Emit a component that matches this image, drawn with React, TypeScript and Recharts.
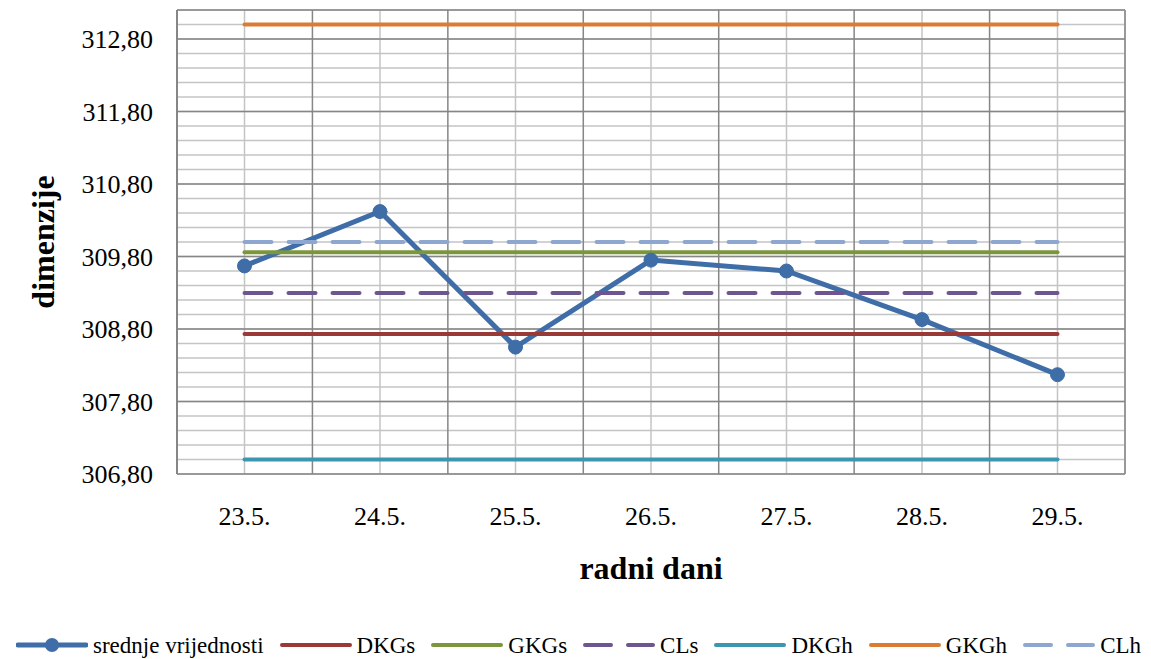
import React from "react";
import {
  LineChart,
  Line,
  XAxis,
  YAxis,
  CartesianGrid,
  Legend,
  Label,
} from "recharts";

const days = ["23.5.", "24.5.", "25.5.", "26.5.", "27.5.", "28.5.", "29.5."];
const means = [309.67, 310.42, 308.55, 309.75, 309.6, 308.93, 308.17];

const DKGs = 308.73;
const GKGs = 309.86;
const CLs = 309.295;
const DKGh = 307.0;
const GKGh = 313.0;
const CLh = 310.0;

const yTicks = [306.8, 307.8, 308.8, 309.8, 310.8, 311.8, 312.8];
const yDomain = [306.8, 313.2];
const minorStep = 0.2;

const data = days.map((d, i) => ({
  day: d,
  mean: means[i],
  DKGs,
  GKGs,
  CLs,
  DKGh,
  GKGh,
  CLh,
}));

const FONT = "'Times New Roman', 'Liberation Serif', serif";

const series = [
  { key: "mean", name: "srednje vrijednosti", color: "#3E6DA8", width: 5, dash: undefined, dot: true },
  { key: "DKGs", name: "DKGs", color: "#9A3A37", width: 4, dash: undefined },
  { key: "GKGs", name: "GKGs", color: "#7C973B", width: 4, dash: undefined },
  { key: "CLs", name: "CLs", color: "#6F5590", width: 4, dash: "27 17" },
  { key: "DKGh", name: "DKGh", color: "#3C96AF", width: 4, dash: undefined },
  { key: "GKGh", name: "GKGh", color: "#DA7C35", width: 4, dash: undefined },
  { key: "CLh", name: "CLh", color: "#8EA7D1", width: 4, dash: "27 17" },
];

// grid lines placed from the plot area (offset) and the y domain
const yToPx = (v: number, off: any) =>
  off.top + (off.height * (yDomain[1] - v)) / (yDomain[1] - yDomain[0]);

const minorRows = (props: any) => {
  const out: number[] = [];
  const n = Math.round((yDomain[1] - yDomain[0]) / minorStep);
  for (let i = 0; i <= n; i++) out.push(yToPx(yDomain[0] + i * minorStep, props.offset));
  return out;
};
const majorRows = (props: any) =>
  [...yTicks, yDomain[1]].map((v) => yToPx(v, props.offset));
const majorCols = (props: any) => {
  const off = props.offset;
  const out: number[] = [];
  for (let i = 0; i <= days.length; i++) out.push(off.left + (off.width * i) / days.length);
  return out;
};

function LegendContent() {
  return (
    <div
      style={{
        display: "flex",
        justifyContent: "center",
        alignItems: "center",
        boxSizing: "border-box",
        height: 40,
        paddingTop: 12,
        paddingLeft: 6,
        fontFamily: FONT,
        fontSize: 23,
        color: "#000",
        whiteSpace: "nowrap",
      }}
    >
      {series.map((s, i) => (
        <div
          key={s.key}
          style={{
            display: "flex",
            alignItems: "center",
            flexShrink: 0,
            marginLeft: i === 0 ? 0 : 16,
          }}
        >
          <svg width={72} height={16} style={{ marginRight: 5, flexShrink: 0 }}>
            <line
              x1={2}
              x2={70}
              y1={8}
              y2={8}
              stroke={s.color}
              strokeWidth={s.width}
              strokeLinecap="round"
              strokeDasharray={s.dash ? "26 17" : undefined}
            />
            {s.dot && <circle cx={36} cy={8} r={7} fill={s.color} />}
          </svg>
          <span style={{ lineHeight: "23px" }}>{s.name}</span>
        </div>
      ))}
    </div>
  );
}

export default function App() {
  return (
    <div style={{ position: "absolute", left: 0, top: 0, background: "#fff" }}>
      <LineChart
        width={1151}
        height={659}
        data={data}
        margin={{ top: 10, right: 26, bottom: 0, left: 0 }}
      >
        <CartesianGrid
          stroke="#c4c4c4"
          strokeWidth={1.5}
          horizontalCoordinatesGenerator={minorRows}
        />
        <CartesianGrid
          stroke="#868686"
          strokeWidth={1.5}
          horizontalCoordinatesGenerator={majorRows}
          verticalCoordinatesGenerator={majorCols}
        />
        <XAxis
          dataKey="day"
          padding={{ left: 67.5, right: 67.5 }}
          height={145}
          tickLine={false}
          axisLine={false}
          tickSize={0}
          tickMargin={33}
          tick={{ fill: "#000", fontFamily: FONT, fontSize: 26 }}
        >
          <Label
            value="radni dani"
            position="insideBottom"
            offset={40}
            style={{ fill: "#000", fontFamily: FONT, fontSize: 32, fontWeight: "bold" }}
          />
        </XAxis>
        <YAxis
          type="number"
          domain={yDomain}
          ticks={yTicks}
          width={177}
          interval={0}
          axisLine={{ stroke: "#868686", strokeWidth: 2 }}
          tickLine={false}
          tickSize={0}
          tickMargin={24}
          tickFormatter={(v: number) => v.toFixed(2).replace(".", ",")}
          tick={{ fill: "#000", fontFamily: FONT, fontSize: 26 }}
        >
          <Label
            value="dimenzije"
            angle={-90}
            position="insideLeft"
            offset={43}
            style={{ fill: "#000", fontFamily: FONT, fontSize: 32, fontWeight: "bold", textAnchor: "middle" }}
          />
        </YAxis>
        {series.map((s) => (
          <Line
            key={s.key}
            type="linear"
            dataKey={s.key}
            name={s.name}
            stroke={s.color}
            strokeWidth={s.width}
            strokeDasharray={s.dash}
            strokeLinecap="round"
            dot={s.dot ? { r: 7, fill: s.color, stroke: s.color, strokeWidth: 1 } : false}
            activeDot={false}
            isAnimationActive={false}
          />
        ))}
        <Legend
          verticalAlign="bottom"
          wrapperStyle={{ left: 0, width: 1151 }}
          content={() => <LegendContent />}
        />
      </LineChart>
    </div>
  );
}
